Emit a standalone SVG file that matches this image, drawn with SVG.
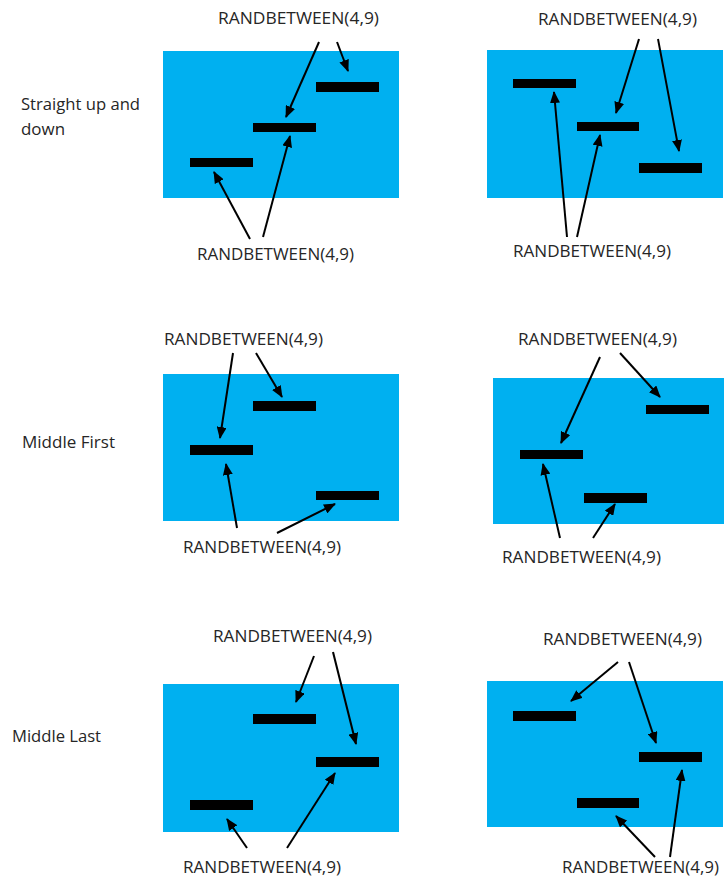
<svg xmlns="http://www.w3.org/2000/svg" width="724" height="879" viewBox="0 0 724 879">
<style>
.bg{fill:#00B0F0}
.bar{fill:#000}
.t{font-family:"Open Sans","Liberation Sans",sans-serif;font-size:16px;fill:#262626}
.c line{stroke:#000;stroke-width:2;marker-end:url(#ah)}
</style>
<defs>
<marker id="ah" markerUnits="userSpaceOnUse" markerWidth="12" markerHeight="10" refX="11" refY="5" orient="auto"><path d="M0,0 L12,5 L0,10 z" fill="#000"/></marker>
</defs>
<rect width="724" height="879" fill="#fff"/>
<text class="t" x="21" y="110" textLength="119" lengthAdjust="spacingAndGlyphs">Straight up and</text>
<text class="t" x="21" y="135" textLength="44" lengthAdjust="spacingAndGlyphs">down</text>
<text class="t" x="22" y="448" textLength="93" lengthAdjust="spacingAndGlyphs">Middle First</text>
<text class="t" x="12" y="742" textLength="89" lengthAdjust="spacingAndGlyphs">Middle Last</text>

<g id="panel1">
<rect class="bg" x="163" y="51" width="236" height="147"/>
<rect class="bar" x="190" y="158" width="63" height="9"/>
<rect class="bar" x="253" y="123" width="63" height="9"/>
<rect class="bar" x="316" y="82" width="63" height="10"/>
<text class="t" x="218" y="24" textLength="161" lengthAdjust="spacingAndGlyphs">RANDBETWEEN(4,9)</text>
<text class="t" x="197" y="260" textLength="157" lengthAdjust="spacingAndGlyphs">RANDBETWEEN(4,9)</text>
</g>
<g id="panel2">
<rect class="bg" x="487" y="50" width="236" height="148"/>
<rect class="bar" x="513" y="79" width="63" height="9"/>
<rect class="bar" x="577" y="122" width="62" height="9"/>
<rect class="bar" x="639" y="163" width="63" height="10"/>
<text class="t" x="538" y="25" textLength="159" lengthAdjust="spacingAndGlyphs">RANDBETWEEN(4,9)</text>
<text class="t" x="513" y="257" textLength="158" lengthAdjust="spacingAndGlyphs">RANDBETWEEN(4,9)</text>
</g>
<g id="panel3">
<rect class="bg" x="163" y="374" width="236" height="147"/>
<rect class="bar" x="190" y="445" width="63" height="10"/>
<rect class="bar" x="253" y="401" width="63" height="10"/>
<rect class="bar" x="316" y="491" width="63" height="9"/>
<text class="t" x="164" y="345" textLength="159" lengthAdjust="spacingAndGlyphs">RANDBETWEEN(4,9)</text>
<text class="t" x="183" y="553" textLength="158" lengthAdjust="spacingAndGlyphs">RANDBETWEEN(4,9)</text>
</g>
<g id="panel4">
<rect class="bg" x="493" y="378" width="231" height="146"/>
<rect class="bar" x="520" y="450" width="63" height="9"/>
<rect class="bar" x="584" y="493" width="63" height="10"/>
<rect class="bar" x="646" y="405" width="63" height="9"/>
<text class="t" x="518" y="345" textLength="159" lengthAdjust="spacingAndGlyphs">RANDBETWEEN(4,9)</text>
<text class="t" x="502" y="563" textLength="159" lengthAdjust="spacingAndGlyphs">RANDBETWEEN(4,9)</text>
</g>
<g id="panel5">
<rect class="bg" x="163" y="684" width="236" height="148"/>
<rect class="bar" x="253" y="714" width="63" height="10"/>
<rect class="bar" x="316" y="757" width="63" height="10"/>
<rect class="bar" x="190" y="800" width="63" height="10"/>
<text class="t" x="213" y="642" textLength="159" lengthAdjust="spacingAndGlyphs">RANDBETWEEN(4,9)</text>
<text class="t" x="183" y="873" textLength="158" lengthAdjust="spacingAndGlyphs">RANDBETWEEN(4,9)</text>
</g>
<g id="panel6">
<rect class="bg" x="487" y="681" width="236" height="146"/>
<rect class="bar" x="513" y="711" width="63" height="10"/>
<rect class="bar" x="639" y="752" width="63" height="10"/>
<rect class="bar" x="577" y="798" width="62" height="10"/>
<text class="t" x="543" y="645" textLength="159" lengthAdjust="spacingAndGlyphs">RANDBETWEEN(4,9)</text>
<text class="t" x="562" y="873" textLength="157" lengthAdjust="spacingAndGlyphs">RANDBETWEEN(4,9)</text>
</g>

<g id="connectors" class="c">
<line x1="319" y1="42" x2="286" y2="117"/>
<line x1="337" y1="42" x2="348" y2="71"/>
<line x1="250" y1="239" x2="214" y2="172"/>
<line x1="263" y1="237" x2="290" y2="136"/>

<line x1="639" y1="39" x2="616" y2="113"/>
<line x1="658" y1="39" x2="679" y2="151"/>
<line x1="567" y1="237" x2="554" y2="92"/>
<line x1="577" y1="237" x2="600" y2="135"/>

<line x1="233" y1="353" x2="220" y2="438"/>
<line x1="256" y1="353" x2="282" y2="397"/>
<line x1="237" y1="528" x2="226" y2="464"/>
<line x1="277" y1="533" x2="335" y2="504"/>

<line x1="600" y1="357" x2="561" y2="443"/>
<line x1="620" y1="353" x2="660" y2="397"/>
<line x1="560" y1="538" x2="543" y2="464"/>
<line x1="593" y1="538" x2="615" y2="504"/>

<line x1="314" y1="656" x2="296" y2="702"/>
<line x1="333" y1="652" x2="356" y2="744"/>
<line x1="247" y1="848" x2="227" y2="819"/>
<line x1="287" y1="848" x2="335" y2="773"/>

<line x1="618" y1="662" x2="571" y2="701"/>
<line x1="629" y1="662" x2="656" y2="743"/>
<line x1="655" y1="857" x2="616" y2="816"/>
<line x1="670" y1="857" x2="682" y2="770"/>
</g>
</svg>
